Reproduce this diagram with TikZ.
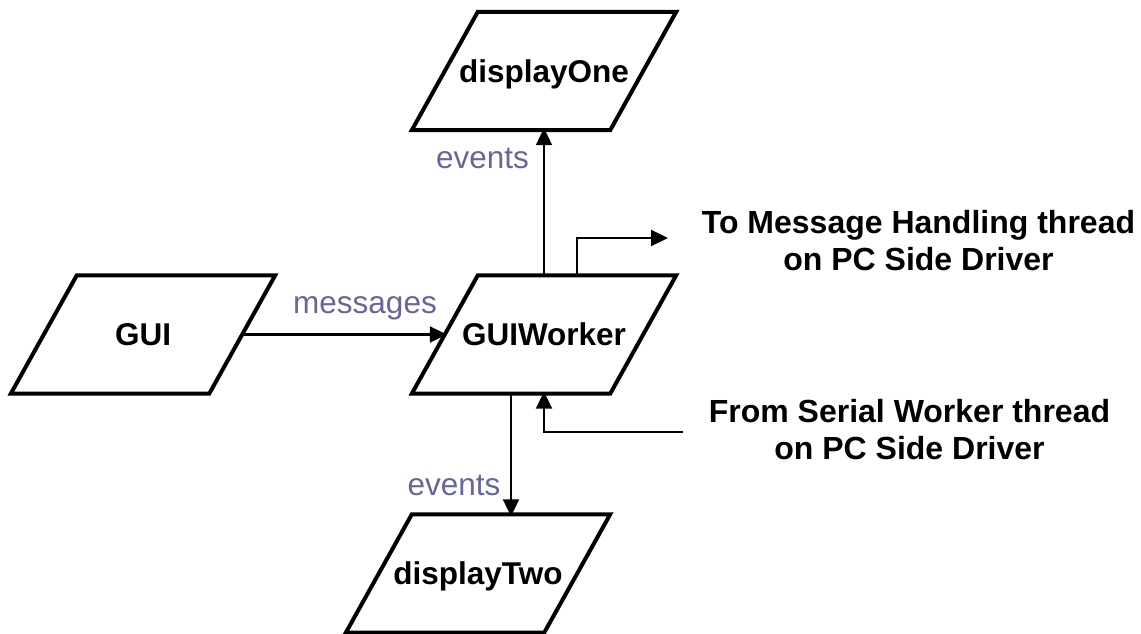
\documentclass[tikz,border=0pt]{standalone}
\usepackage{fontspec}
\setmainfont{Liberation Sans}
\usetikzlibrary{arrows.meta}
\definecolor{labelblue}{RGB}{102,102,153}
\begin{document}
\begin{tikzpicture}[x=1pt,y=-1pt,
  io/.style={minimum width=198pt, minimum height=118pt, inner sep=0pt,
    font=\fontsize{31.5}{35}\selectfont\bfseries, text height=22pt, text depth=0pt},
  ioborder/.style={line width=4pt, line join=miter},
  flow/.style={line width=2.2pt, -{Triangle[length=17pt,width=16pt]}},
  tag/.style={font=\fontsize{31.5}{35}\selectfont, text=labelblue, inner sep=0pt},
  note/.style={font=\fontsize{32}{36.5}\selectfont\bfseries, align=center, inner sep=0pt}]
\useasboundingbox (0,0) rectangle (1141,634);

% data nodes (text cores; the slanted borders are drawn below)
\node[io] (d1)  at (544,71)    {displayOne};
\node[io] (gw)  at (544,334.5) {GUIWorker};
\node[io] (gui) at (143,334.5) {GUI};
\node[io] (d2)  at (478,573.5) {displayTwo};

% parallelogram outlines around each core
\foreach \n in {d1,gw,gui,d2}
  \draw[ioborder] ([xshift=-33pt]\n.south west) -- ([xshift=-33pt]\n.south east)
    -- ([xshift=33pt]\n.north east) -- ([xshift=33pt]\n.north west) -- cycle;

% free ends of the external links
\coordinate (toMsg)   at (668,238);
\coordinate (fromSer) at (683,432);

% connectors
\draw[flow, shorten >=-2pt] (gui.east) -- (gw.west);
\draw[flow, shorten >=-2pt] (gw.north) -- (d1.south);
\draw[flow, shorten >=-2pt] ([xshift=-33pt]gw.south) -- ([xshift=33pt]d2.north);
\draw[flow] ([xshift=33pt]gw.north) |- (toMsg);
\draw[flow, shorten >=-2pt] (fromSer) -| (gw.south);

% connector labels
\node[tag, anchor=base] (ev1) at (482.5,168) {events};
\node[tag, anchor=base] (ev2) at (454,495)   {events};
\node[tag, anchor=base] (msg) at (365,313)   {messages};

% external thread notes
\node[note] (toTxt)   at (918.5,240.5) {To Message Handling thread\\on PC Side Driver};
\node[note] (fromTxt) at (909.5,429.5) {From Serial Worker thread\\on PC Side Driver};
\end{tikzpicture}
\end{document}
